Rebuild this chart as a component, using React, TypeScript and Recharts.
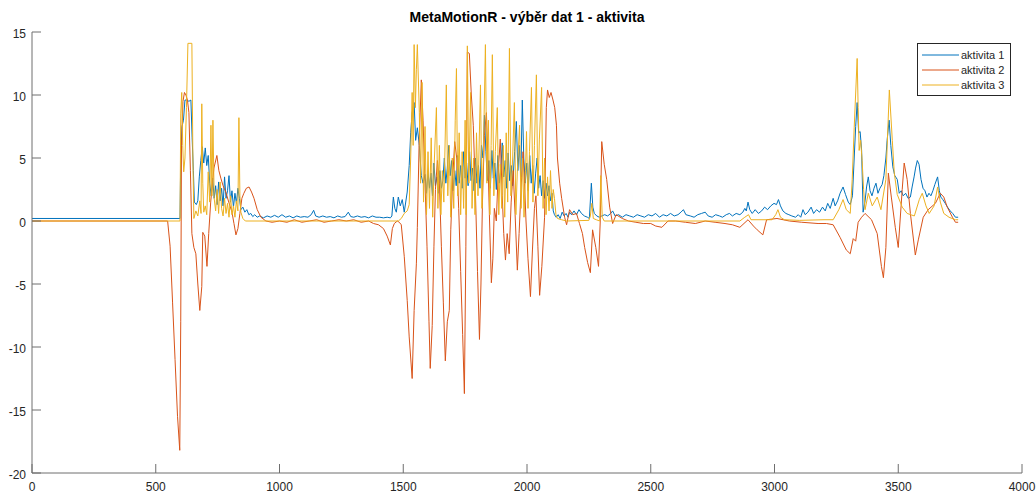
import { LineChart, Line, XAxis, YAxis, Legend } from 'recharts';

const xTicks = [0, 500, 1000, 1500, 2000, 2500, 3000, 3500, 4000];
const yTicks = [-20, -15, -10, -5, 0, 5, 10, 15];
const seriesNames = ['aktivita 1', 'aktivita 2', 'aktivita 3'];
const seriesColors = ['#0072BD', '#D95319', '#EDB120'];

// [sample, value]
const aktivita1: [number, number][] = [
  [0, 0.2], [598, 0.2], [601, 5.0], [606, 7.5], [612, 8.0], [618, 9.6], [626, 9.6], [634, 9.5], [642, 9.6],
  [647, 6.6], [652, 4.0], [656, 1.5], [664, 1.3], [670, 1.6], [676, 3.5], [682, 4.8], [688, 5.9], [694, 4.6],
  [700, 5.8], [706, 4.4], [712, 5.2], [718, 3.0], [724, 2.0], [730, 3.4], [736, 1.8], [742, 2.8], [748, 1.3],
  [754, 3.1], [760, 1.6], [766, 2.6], [772, 1.2], [778, 3.5], [784, 1.8], [790, 2.4], [796, 3.6], [802, 1.5],
  [808, 2.4], [814, 1.1], [820, 2.2], [826, 1.4], [832, 2.6], [838, 1.8], [844, 0.9], [852, 1.1], [860, 0.7],
  [868, 0.9], [876, 0.5], [884, 0.6], [892, 0.35], [900, 0.5], [910, 0.3], [920, 0.4], [935, 0.25], [950, 0.4],
  [965, 0.3], [980, 0.45], [995, 0.3], [1010, 0.5], [1025, 0.3], [1040, 0.4], [1055, 0.25], [1070, 0.4],
  [1085, 0.3], [1100, 0.35], [1115, 0.3], [1128, 0.5], [1138, 0.85], [1146, 0.4], [1160, 0.3], [1175, 0.4],
  [1190, 0.3], [1205, 0.35], [1220, 0.25], [1235, 0.4], [1250, 0.3], [1265, 0.35], [1278, 0.7], [1288, 0.35],
  [1300, 0.3], [1315, 0.4], [1330, 0.3], [1345, 0.35], [1360, 0.25], [1375, 0.4], [1390, 0.3], [1405, 0.3],
  [1420, 0.25], [1435, 0.3], [1448, 0.25], [1454, 0.4], [1460, 1.9], [1466, 1.0], [1472, 0.7], [1480, 1.9],
  [1488, 1.2], [1496, 1.7], [1504, 0.7], [1516, 2.3], [1524, 4.4], [1530, 7.0], [1536, 8.6], [1544, 9.4],
  [1550, 6.4], [1557, 7.4], [1565, 6.0], [1573, 3.6], [1580, 3.0], [1588, 3.7], [1594, 2.2], [1600, 4.0],
  [1606, 2.6], [1612, 3.8], [1618, 2.0], [1624, 4.6], [1630, 2.8], [1636, 3.5], [1642, 2.2], [1648, 4.0],
  [1654, 2.6], [1660, 3.2], [1666, 5.0], [1672, 3.0], [1678, 4.2], [1684, 6.0], [1690, 3.6], [1696, 4.8],
  [1702, 2.4], [1708, 4.0], [1714, 2.8], [1720, 5.2], [1726, 3.0], [1732, 4.4], [1738, 2.6], [1744, 5.5],
  [1750, 3.4], [1756, 4.6], [1762, 2.8], [1768, 5.5], [1774, 3.2], [1780, 4.2], [1786, 2.4], [1792, 5.0],
  [1798, 3.0], [1804, 4.4], [1810, 2.6], [1816, 6.0], [1822, 5.0], [1828, 8.4], [1834, 5.5], [1840, 3.2],
  [1846, 4.8], [1852, 2.6], [1858, 5.6], [1864, 3.4], [1870, 4.6], [1876, 2.5], [1882, 5.2], [1888, 3.0],
  [1894, 4.0], [1900, 6.2], [1906, 3.5], [1912, 4.8], [1918, 2.6], [1924, 5.4], [1930, 3.2], [1936, 4.4],
  [1942, 2.8], [1950, 5.5], [1957, 7.9], [1963, 4.0], [1969, 6.0], [1975, 3.5], [1981, 9.6], [1987, 5.0],
  [1993, 3.0], [1999, 4.6], [2005, 2.4], [2011, 5.2], [2017, 3.0], [2023, 4.4], [2029, 2.2], [2035, 3.8],
  [2041, 5.0], [2047, 2.6], [2053, 3.6], [2059, 2.0], [2065, 3.2], [2071, 1.8], [2077, 3.0], [2083, 2.0],
  [2089, 2.8], [2095, 1.6], [2101, 2.2], [2106, 0.8], [2111, 0.5], [2118, 0.3], [2126, 0.5], [2134, 0.2],
  [2142, 0.7], [2150, 0.4], [2158, 0.6], [2166, 0.3], [2172, 0.7], [2180, 0.5], [2190, 0.8], [2200, 0.5],
  [2210, 0.9], [2220, 0.6], [2232, 0.4], [2244, 0.3], [2252, 0.2], [2260, 3.0], [2266, 1.1], [2272, 0.6],
  [2282, 0.4], [2292, 0.3], [2302, 0.4], [2314, 0.5], [2326, 0.4], [2338, 0.6], [2346, 0.8], [2356, 0.4],
  [2370, 0.5], [2385, 0.3], [2400, 0.5], [2415, 0.4], [2430, 0.3], [2445, 0.5], [2460, 0.4], [2475, 0.3],
  [2490, 0.5], [2505, 0.4], [2520, 0.6], [2535, 0.3], [2550, 0.5], [2565, 0.4], [2580, 0.6], [2595, 0.4],
  [2610, 0.5], [2622, 0.7], [2632, 0.9], [2642, 0.5], [2660, 0.4], [2675, 0.3], [2690, 0.5], [2705, 0.6],
  [2720, 0.7], [2732, 0.4], [2748, 0.3], [2762, 0.5], [2778, 0.4], [2790, 0.3], [2805, 0.5], [2818, 0.6],
  [2830, 0.4], [2845, 0.6], [2860, 0.5], [2872, 0.7], [2880, 1.0], [2886, 0.8], [2893, 1.5], [2900, 0.9],
  [2910, 0.6], [2922, 0.9], [2935, 0.6], [2948, 0.8], [2960, 1.1], [2972, 0.9], [2985, 1.2], [2998, 1.4],
  [3008, 1.3], [3016, 1.7], [3024, 1.2], [3034, 0.8], [3046, 0.6], [3058, 0.5], [3070, 0.4], [3085, 0.3],
  [3096, 0.5], [3106, 0.3], [3115, 0.9], [3124, 0.5], [3135, 0.7], [3148, 1.1], [3158, 0.6], [3170, 0.9],
  [3182, 0.7], [3194, 1.1], [3205, 0.8], [3215, 1.4], [3225, 1.0], [3237, 1.8], [3245, 1.2], [3255, 1.6],
  [3265, 2.2], [3277, 2.7], [3287, 2.1], [3298, 1.5], [3306, 1.3], [3315, 2.0], [3322, 5.0], [3328, 7.5],
  [3334, 9.4], [3340, 7.0], [3346, 7.1], [3352, 5.6], [3358, 0.7], [3366, 1.6], [3372, 2.7], [3379, 3.5],
  [3386, 2.4], [3394, 2.0], [3402, 2.6], [3410, 3.0], [3418, 2.2], [3426, 2.6], [3435, 2.9], [3442, 3.6],
  [3450, 5.0], [3455, 6.4], [3463, 8.0], [3470, 6.0], [3478, 4.3], [3486, 3.6], [3496, 3.3], [3504, 2.2],
  [3512, 2.4], [3520, 2.0], [3530, 2.2], [3540, 1.8], [3549, 1.9], [3556, 2.7], [3564, 3.5], [3570, 4.2],
  [3577, 4.8], [3584, 4.5], [3592, 3.3], [3600, 2.6], [3608, 2.4], [3616, 1.9], [3624, 2.2], [3632, 2.0],
  [3640, 2.4], [3648, 2.9], [3659, 3.5], [3666, 2.4], [3672, 1.9], [3680, 1.7], [3690, 1.4], [3699, 1.1],
  [3710, 0.8], [3720, 0.6], [3731, 0.3], [3742, 0.3],
];

const aktivita2: [number, number][] = [
  [0, 0], [548, 0], [558, -2], [568, -6.5], [578, -11], [588, -15.5], [597, -18.2], [601, -8], [604, 6],
  [610, 9.5], [616, 10.2], [622, 10], [628, 9.6], [634, 8.6], [640, 4], [646, -1], [654, -2.1], [662, -2.6],
  [670, -5], [678, -7.1], [686, -5.2], [690, -0.9], [698, -1.2], [707, -3.6], [714, -1], [722, 1.5],
  [735, 4.2], [747, 5.2], [755, 4], [763, 3.4], [772, 2.8], [783, 2.3], [795, 1.5], [808, 0.7], [816, -0.2],
  [824, -1.1], [832, -0.6], [840, 0.6], [848, 1.8], [856, 2.2], [866, 2.6], [877, 2.7], [887, 2.3],
  [897, 1.8], [910, 0.9], [925, 0.3], [945, 0], [970, -0.1], [1000, 0], [1030, -0.1], [1060, 0.1],
  [1090, -0.1], [1120, 0], [1150, 0.1], [1180, -0.1], [1210, 0], [1240, 0.1], [1270, 0], [1300, 0.1],
  [1330, -0.1], [1360, 0], [1380, -0.2], [1400, -0.3], [1420, -0.6], [1435, -1.2], [1448, -1.9],
  [1456, -0.6], [1464, -0.2], [1476, 0], [1484, -0.1], [1492, -0.3], [1504, -2.8], [1516, -6.3],
  [1524, -9.2], [1536, -12.5], [1544, -7.1], [1553, -3.4], [1557, -0.5], [1564, 6], [1573, 11.2], [1580, 8],
  [1588, 3], [1596, -2], [1604, -8], [1609, -11.7], [1617, -8.3], [1624, -2], [1630, 2.5], [1638, 4.8],
  [1646, 3], [1654, -2], [1662, -6.5], [1670, -11.1], [1678, -8], [1686, -7.1], [1692, -0.7], [1700, 3.5],
  [1708, 6.3], [1716, 5], [1724, 1], [1732, -4], [1740, -9], [1747, -13.7], [1753, -2], [1759, 13.4],
  [1767, 13.3], [1775, 10], [1783, 7.6], [1792, 2], [1800, -4], [1808, -9.4], [1814, -5], [1820, 1.5],
  [1828, 6.8], [1836, 8.6], [1842, 5], [1848, 0.5], [1856, -4.9], [1862, -3], [1868, 1], [1876, 0],
  [1884, 4], [1892, 6.5], [1900, 2], [1906, -1], [1913, -3.1], [1920, -1], [1928, -2.6], [1936, 1.5],
  [1944, 4], [1952, 0.5], [1961, -3.9], [1968, -1], [1976, 2.5], [1984, 5.5], [1990, 3], [1996, 0],
  [2004, -3], [2014, -6], [2022, -2.3], [2030, 1], [2036, 2], [2044, -2], [2051, -5.9], [2060, -3.6],
  [2071, 0.3], [2078, 9], [2083, 10.4], [2090, 9.8], [2097, 10.2], [2105, 9.6], [2112, 9], [2119, 7.6],
  [2123, 5], [2132, 3], [2140, 1.8], [2152, 0.3], [2160, -0.3], [2172, 0.9], [2185, 0.5], [2200, 0.6],
  [2212, -0.2], [2224, -1], [2233, -2.1], [2245, -3.3], [2256, -4.1], [2265, -0.7], [2278, -2.1],
  [2289, -3.6], [2296, 0], [2302, 6.3], [2312, 4.5], [2322, 3.3], [2334, 1.1], [2346, -0.2], [2360, 0.5],
  [2385, 0.2], [2410, 0], [2440, -0.1], [2470, -0.2], [2500, -0.2], [2520, -0.4], [2545, -0.5], [2570, 0],
  [2600, 0], [2640, -0.1], [2680, -0.2], [2720, 0], [2760, -0.1], [2800, -0.2], [2830, -0.3], [2860, -0.5],
  [2893, 0.1], [2915, -0.4], [2930, -0.7], [2953, -1.1], [2968, 0.1], [3010, 0.2], [3060, 0], [3110, -0.1],
  [3176, -0.2], [3210, -0.2], [3237, -0.3], [3265, -1.3], [3290, -2.3], [3306, -2.6], [3318, -1.4],
  [3328, -1.6], [3338, -0.1], [3352, 0.3], [3366, 0.6], [3392, 0.1], [3415, -1], [3432, -3.6], [3440, -4.5],
  [3450, -2.1], [3460, 3.8], [3472, 1.9], [3488, -0.5], [3500, -2.1], [3516, 2.5], [3524, 4.6], [3536, 3.3],
  [3549, 0.6], [3569, -2.7], [3581, -1.5], [3601, 0.3], [3621, 0.9], [3650, 1.4], [3670, 2.2], [3684, 1.9],
  [3698, 1.1], [3719, 0.3], [3731, -0.1], [3742, -0.1],
];

const aktivita3: [number, number][] = [
  [0, 0], [598, 0], [601, 8.5], [605, 10.2], [609, 6], [613, 3.9], [618, 5], [624, 9], [630, 14.1],
  [646, 14.1], [650, 5], [654, 0.2], [662, 0.8], [670, 0.4], [678, 1.6], [683, 0.6], [686, 9.3], [690, 3],
  [694, 0.7], [700, 1.2], [706, 0.5], [712, 3.9], [718, 1.5], [723, 7.6], [727, 2], [731, 8], [736, 1.8],
  [742, 0.8], [748, 2.5], [754, 0.6], [760, 3.1], [766, 1], [772, 0.4], [778, 1.8], [784, 0.6], [790, 1.4],
  [796, 0.3], [802, 2], [808, 0.5], [814, 1.2], [820, 0.3], [826, 1.6], [832, 0.8], [836, 8.2], [840, 2],
  [844, 0.7], [852, 0.2], [862, 0], [1480, 0], [1492, 0.2], [1504, 0.6], [1516, 0.8], [1524, 1.3],
  [1530, 5], [1536, 10.2], [1540, 6], [1544, 14], [1549, 9], [1553, 12], [1557, 14], [1565, 8.6], [1570, 3],
  [1576, 11], [1582, 1.5], [1588, 7.5], [1594, 0.5], [1600, 5.5], [1606, 1], [1613, 6.6], [1619, 0.3],
  [1625, 4.5], [1634, 9], [1640, 1], [1646, 6], [1652, 0.5], [1658, 4], [1664, 1.5], [1674, 10.8], [1680, 2],
  [1686, 6], [1692, 0.3], [1698, 5], [1704, 1], [1710, 8], [1715, 12.1], [1720, 2], [1726, 7], [1732, 0.5],
  [1738, 5.5], [1744, 1], [1750, 8], [1754, 0.5], [1759, 13.9], [1765, 3], [1772, 10.2], [1778, 1],
  [1784, 5], [1790, 0.5], [1796, 7], [1802, 2], [1812, 10.8], [1818, 1], [1824, 5.5], [1832, 14], [1838, 3],
  [1844, 8], [1850, 0.5], [1855, 6], [1860, 13.2], [1866, 2], [1872, 5.5], [1880, 9], [1886, 0.5],
  [1892, 4.5], [1898, 1], [1904, 6], [1910, 0.3], [1916, 7], [1922, 1.5], [1929, 13.7], [1935, 2], [1942, 5],
  [1949, 9.4], [1955, 0.5], [1961, 4], [1970, 7.6], [1976, 1], [1982, 5], [1988, 0.3], [1994, 4], [1998, 7.1],
  [2004, 1], [2010, 5.5], [2018, 10.6], [2024, 1.5], [2030, 6], [2038, 11.6], [2044, 2], [2050, 6.5],
  [2059, 10.6], [2065, 1], [2071, 5], [2077, 0.5], [2083, 3.5], [2089, 0.8], [2095, 4], [2101, 1],
  [2106, 2.5], [2111, 1.8], [2117, 0.5], [2123, 0.2], [2140, 0.1], [2160, 0], [2250, 0.05], [2256, 0.4],
  [2262, 1.4], [2268, 0.2], [2280, 0.1], [2294, 0], [2298, 3.6], [2304, 0.3], [2312, 0], [2860, 0],
  [2880, 0.3], [2895, 0.5], [2905, 0.1], [2990, 0.1], [3005, 0.5], [3014, 0.9], [3024, 0.3], [3040, 0.1],
  [3100, 0.05], [3200, 0.1], [3237, 0.1], [3260, 0.9], [3277, 1.7], [3290, 0.9], [3306, 0.6], [3314, 3.3],
  [3322, 7.4], [3334, 12.9], [3338, 9], [3342, 5.6], [3348, 6.4], [3354, 4.8], [3360, 2.5], [3366, 0.9],
  [3379, 2.2], [3395, 1.2], [3415, 1.9], [3430, 0.9], [3450, 3.3], [3464, 10.4], [3476, 6.4], [3484, 3.8],
  [3496, 2.1], [3516, 1.1], [3536, 0.6], [3565, 0.4], [3585, 1.7], [3597, 2.2], [3612, 1.2], [3625, 0.6],
  [3645, 1.2], [3659, 2.7], [3670, 1.5], [3684, 0.6], [3705, 0.3], [3731, 0.1], [3742, 0.1],
];

const toRows = (pts: [number, number][]) => pts.map(([x, y]) => ({ x, y }));
const seriesData = [aktivita1, aktivita2, aktivita3].map(toRows);

const AXIS = '#6e6e6e';
const TEXT = '#262626';
const FONT = "'Liberation Sans', Arial, sans-serif";
const TICK_LEN = 9;

function BottomTick({ x, y, payload }: any) {
  const axisY = y - 4;
  return (
    <g>
      <line x1={x} y1={axisY} x2={x} y2={axisY - TICK_LEN} stroke={AXIS} />
      <text x={x} y={axisY + 18} textAnchor="middle" fontSize={12} fontFamily={FONT} fill={TEXT}>
        {payload.value}
      </text>
    </g>
  );
}

function TopTick({ x, y }: any) {
  return <line x1={x} y1={y} x2={x} y2={y + TICK_LEN} stroke={AXIS} />;
}

function LeftTick({ x, y, payload }: any) {
  const axisX = x + 6;
  return (
    <g>
      <line x1={axisX} y1={y} x2={axisX + TICK_LEN} y2={y} stroke={AXIS} />
      <text x={x} y={y + 6} textAnchor="end" fontSize={12} fontFamily={FONT} fill={TEXT}>
        {payload.value}
      </text>
    </g>
  );
}

function RightTick({ x, y }: any) {
  return <line x1={x} y1={y} x2={x - TICK_LEN} y2={y} stroke={AXIS} />;
}

function LegendBox() {
  return (
    <div
      style={{
        border: `1px solid ${TEXT}`,
        background: '#fff',
        padding: '3px 4px 3px 4px',
        fontFamily: FONT,
        fontSize: 11,
        color: TEXT,
        width: 84,
      }}
    >
      {seriesNames.map((name, i) => (
        <div key={name} style={{ display: 'flex', alignItems: 'center', height: 15 }}>
          <svg width={37} height={4} style={{ marginRight: 2 }}>
            <line x1={0} y1={2} x2={37} y2={2} stroke={seriesColors[i]} strokeWidth={1} />
          </svg>
          <span>{name}</span>
        </div>
      ))}
    </div>
  );
}

export default function App() {
  return (
    <div style={{ position: 'absolute', left: 0, top: 0, width: 1036, height: 493, background: '#fff' }}>
      <div
        style={{
          position: 'absolute',
          left: 32,
          width: 990,
          top: 9,
          textAlign: 'center',
          fontFamily: FONT,
          fontWeight: 'bold',
          fontSize: 14,
          color: '#000',
        }}
      >
        MetaMotionR - výběr dat 1 - aktivita
      </div>
      <LineChart width={1036} height={493} margin={{ top: 32, right: 14, bottom: 0, left: 0 }}>
        <XAxis
          xAxisId="bottom"
          dataKey="x"
          type="number"
          domain={[0, 4000]}
          ticks={xTicks}
          interval={0}
          height={20}
          tickSize={0}
          tickMargin={4}
          tickLine={false}
          axisLine={{ stroke: AXIS }}
          tick={<BottomTick />}
          allowDataOverflow
        />
        <XAxis
          xAxisId="top"
          orientation="top"
          dataKey="x"
          type="number"
          domain={[0, 4000]}
          ticks={xTicks}
          interval={0}
          height={0}
          tickSize={0}
          tickMargin={0}
          tickLine={false}
          axisLine={{ stroke: AXIS }}
          tick={<TopTick />}
          allowDataOverflow
        />
        <YAxis
          yAxisId="left"
          type="number"
          domain={[-20, 15]}
          ticks={yTicks}
          interval={0}
          width={32}
          tickSize={0}
          tickMargin={6}
          tickLine={false}
          axisLine={{ stroke: AXIS }}
          tick={<LeftTick />}
          allowDataOverflow
        />
        <YAxis
          yAxisId="right"
          orientation="right"
          type="number"
          domain={[-20, 15]}
          ticks={yTicks}
          interval={0}
          width={0}
          tickSize={0}
          tickMargin={0}
          tickLine={false}
          axisLine={{ stroke: AXIS }}
          tick={<RightTick />}
          allowDataOverflow
        />
        <Legend
          layout="vertical"
          align="center"
          verticalAlign="middle"
          content={<LegendBox />}
          wrapperStyle={{ left: 917, top: 43, width: 94, height: 50 }}
        />
        {seriesData.map((rows, i) => (
          <Line
            key={seriesNames[i]}
            data={rows}
            xAxisId="bottom"
            yAxisId="left"
            dataKey="y"
            name={seriesNames[i]}
            type="linear"
            stroke={seriesColors[i]}
            strokeWidth={1}
            dot={false}
            activeDot={false}
            isAnimationActive={false}
          />
        ))}
      </LineChart>
    </div>
  );
}
